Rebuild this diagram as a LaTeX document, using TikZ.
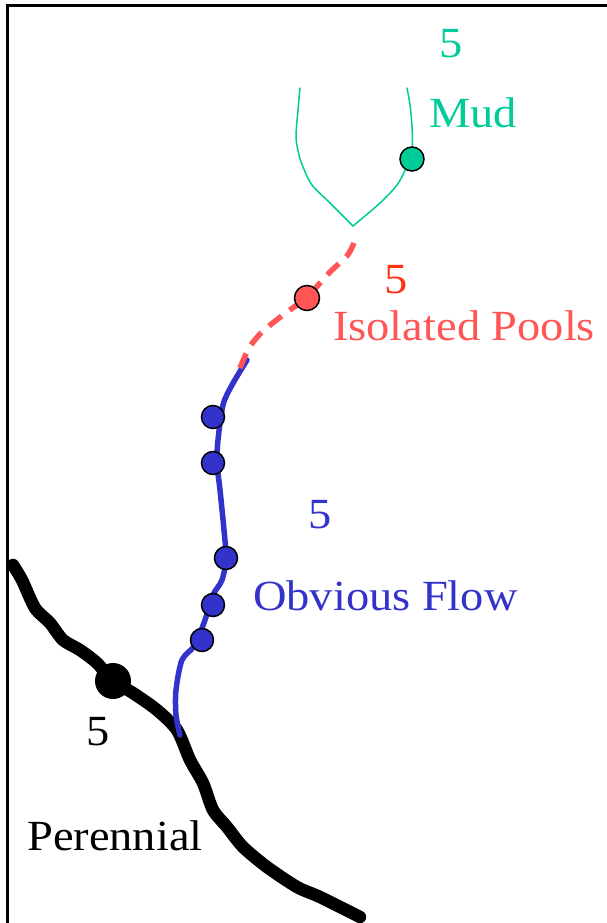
\documentclass[tikz,border=0pt]{standalone}
\usepackage{fontspec}
\newfontfamily\lblfont[FakeStretch=1.08]{Liberation Serif}
\definecolor{mudgreen}{RGB}{0,204,153}
\definecolor{poolred}{RGB}{255,85,85}
\definecolor{numred}{RGB}{255,51,17}
\definecolor{flowblue}{RGB}{51,51,204}
\tikzset{
  lbl/.style={anchor=base west, inner sep=0pt, font=\lblfont\fontsize{43}{46}\selectfont},
  dot/.style={circle, draw=black, line width=1.5pt, inner sep=0pt},
  stream/.style={line cap=round, line join=round},
}
\begin{document}
\begin{tikzpicture}[x=1pt,y=-1pt]
\useasboundingbox (0,0) rectangle (607,923);
% frame
\draw[line width=3pt] (607,6) -- (7,6) -- (7,923);
% perennial (black)
\draw[stream, line width=12.5pt] plot[smooth, tension=0.45] coordinates {(13,565) (22,580) (35,608) (50,623) (63,640) (80,650) (97,663) (113,681) (133,693) (157,710) (177,730) (190,760) (203,783) (213,810) (227,827) (243,847) (267,867) (297,887) (320,897) (360,917)};
% obvious flow (blue)
\draw[stream, flowblue, line width=5.5pt] plot[smooth, tension=0.5] coordinates {(247,360) (232,385) (223,405) (218,440) (217,463) (220,490) (224,530) (226,558) (222,580) (213,595) (205,620) (195,645) (182,660) (176,690) (176,715) (180,735)};
% isolated pools (red dashed)
\draw[line cap=butt, line join=round, poolred, line width=5.5pt, dash pattern=on 16pt off 10pt] plot[smooth, tension=0.5] coordinates {(354,243) (347,256) (330,272) (307,297) (283,315) (262,332) (249,348) (240,368)};
% mud (green)
\draw[stream, mudgreen, line width=1.5pt] plot[smooth, tension=0.5] coordinates {(300,88) (298,110) (296,137) (299,155) (303,167) (312,185) (330,203) (353,226)};
\draw[stream, mudgreen, line width=1.5pt] plot[smooth, tension=0.5] coordinates {(407,88) (410,105) (412,127) (412,150) (406,168) (397,185) (380,203) (353,226)};
% dots
\node[dot, fill=mudgreen, minimum size=24pt] (gd) at (412,159) {};
\node[dot, fill=poolred, minimum size=25pt] (rd) at (307,298) {};
\node[dot, fill=flowblue, minimum size=23pt] (b1) at (213,417) {};
\node[dot, fill=flowblue, minimum size=23pt] (b2) at (213,463) {};
\node[dot, fill=flowblue, minimum size=23pt] (b3) at (226,558) {};
\node[dot, fill=flowblue, minimum size=23pt] (b4) at (213,605) {};
\node[dot, fill=flowblue, minimum size=23pt] (b5) at (202,640) {};
\node[circle, fill=black, inner sep=0pt, minimum size=36pt] (kd) at (113,681) {};
% labels
\node[lbl, mudgreen] (gn) at (439,58) {5};
\node[lbl, mudgreen] (gt) at (429,128) {Mud};
\node[lbl, numred] (rn) at (384,293) {5};
\node[lbl, poolred] (rt) at (333,340) {Isolated Pools};
\node[lbl, flowblue] (bn) at (308,528) {5};
\node[lbl, flowblue] (bt) at (253,610) {Obvious Flow};
\node[lbl, black] (kn) at (86,745) {5};
\node[lbl, black] (kt) at (27,850) {Perennial};
\end{tikzpicture}
\end{document}
